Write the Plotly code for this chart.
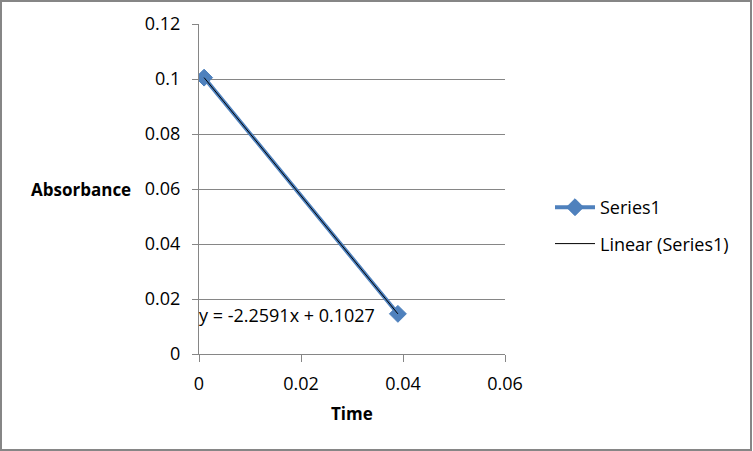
import numpy as np
import plotly.graph_objects as go

time = [0.001, 0.039]
absorbance = [0.1005, 0.0146]
eq_text = "y = -2.2591x + 0.1027"
x_ticks = [0, 0.02, 0.04, 0.06]
x_tick_labels = ["0", "0.02", "0.04", "0.06"]
y_ticks = [0, 0.02, 0.04, 0.06, 0.08, 0.1, 0.12]
y_tick_labels = ["0", "0.02", "0.04", "0.06", "0.08", "0.1", "0.12"]

W, H = 753, 451
L, R, T, B = 199, 505, 24, 354
pw, ph = R - L, B - T

slope, intercept = np.polyfit(time, absorbance, 1)
tx = np.array([min(time), max(time)])
ty = slope * tx + intercept

FONT = "Open Sans"
GRAY = "#868686"
FS = 18

fig = go.Figure()
fig.add_trace(go.Scatter(
    x=time, y=absorbance, mode="lines+markers", name="Series1",
    line=dict(color="#4F81BD", width=4),
    marker=dict(symbol="diamond", size=13, color="#4F81BD",
                line=dict(color="#4A7EBB", width=1)),
    legendgroup="a"))
fig.add_trace(go.Scatter(
    x=tx, y=ty, mode="lines", name="Linear (Series1)",
    line=dict(color="black", width=1), legendgroup="b"))

fig.update_layout(
    width=W, height=H,
    margin=dict(l=L, r=W - R, t=T, b=H - B, pad=0),
    paper_bgcolor="white", plot_bgcolor="white",
    font=dict(family=FONT, size=FS, color="black"),
    showlegend=True,
    legend=dict(x=(550 - L) / pw, y=(B - 189) / ph, xanchor="left", yanchor="top",
                font=dict(size=FS, family=FONT), tracegroupgap=10,
                bgcolor="rgba(0,0,0,0)", itemwidth=40),
    xaxis=dict(range=[0, 0.06], tickvals=x_ticks, ticktext=x_tick_labels,
               showgrid=False, zeroline=False, showline=True, linecolor=GRAY,
               linewidth=1, ticks="outside", ticklen=7, tickcolor=GRAY,
               ticklabelstandoff=6, tickfont=dict(size=FS)),
    yaxis=dict(range=[0, 0.12], tickvals=y_ticks, ticktext=y_tick_labels,
               showgrid=True, gridcolor=GRAY, gridwidth=1, zeroline=False,
               showline=True, linecolor=GRAY, linewidth=1, ticks="outside",
               ticklen=6, tickcolor=GRAY, ticklabelstandoff=8,
               tickfont=dict(size=FS)),
    annotations=[
        dict(text="<b>Absorbance</b>", xref="paper", yref="y", x=(133 - L) / pw, y=0.06,
             xanchor="right", yanchor="middle", showarrow=False, font=dict(size=17)),
        dict(text="<b>Time</b>", xref="paper", yref="paper", x=(352 - L) / pw,
             y=(B - 413) / ph, xanchor="center", yanchor="middle", showarrow=False,
             font=dict(size=17)),
        dict(text=eq_text, xref="paper", yref="paper", x=(197 - L) / pw,
             y=(B - 315) / ph, xanchor="left", yanchor="middle", showarrow=False,
             font=dict(size=18)),
    ],
    shapes=[dict(type="rect", xref="paper", yref="paper",
                 x0=(1 - L) / pw, x1=(751 - L) / pw,
                 y0=(B - 450) / ph, y1=(B - 1) / ph,
                 line=dict(color=GRAY, width=2), layer="below")],
)

fig.write_html("out.html", config={"displayModeBar": False},
               post_script="document.body.style.margin='0';document.body.style.overflow='hidden';")
